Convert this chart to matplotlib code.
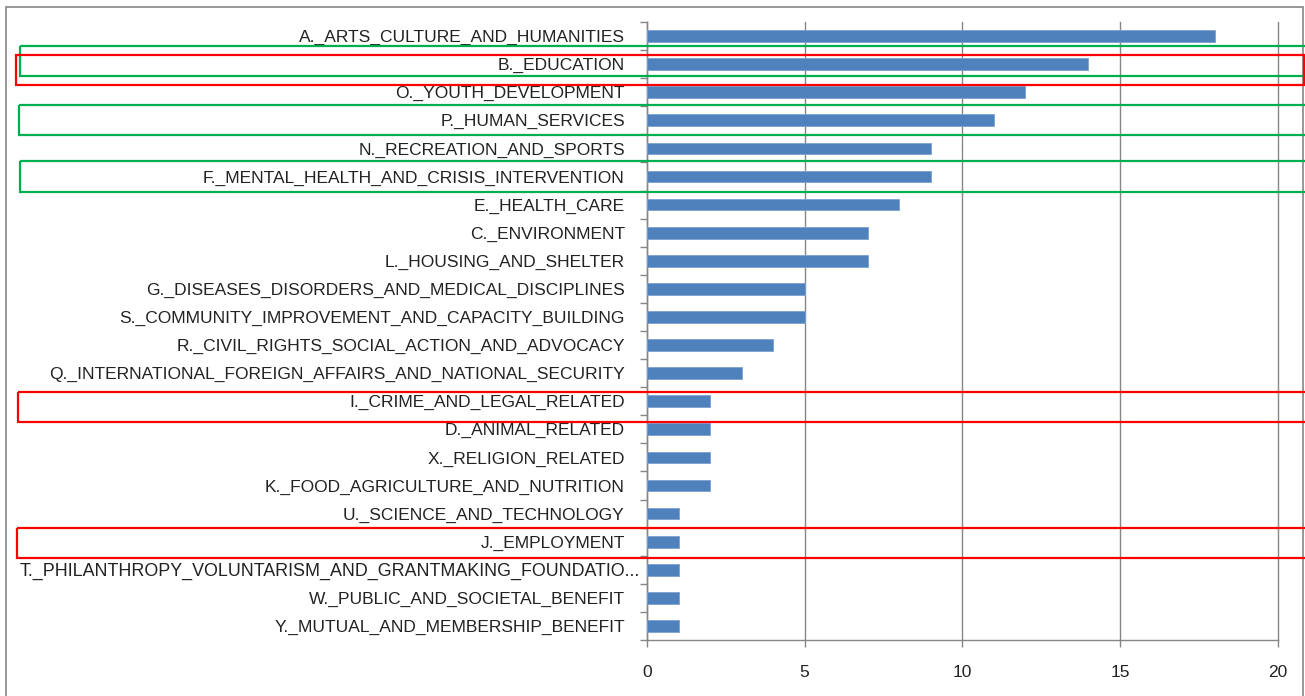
import matplotlib
matplotlib.use("Agg")
import matplotlib.pyplot as plt
import matplotlib.transforms as mtransforms
from matplotlib.patches import Rectangle
import numpy as np

# categories, top to bottom
categories = [
    "A._ARTS_CULTURE_AND_HUMANITIES",
    "B._EDUCATION",
    "O._YOUTH_DEVELOPMENT",
    "P._HUMAN_SERVICES",
    "N._RECREATION_AND_SPORTS",
    "F._MENTAL_HEALTH_AND_CRISIS_INTERVENTION",
    "E._HEALTH_CARE",
    "C._ENVIRONMENT",
    "L._HOUSING_AND_SHELTER",
    "G._DISEASES_DISORDERS_AND_MEDICAL_DISCIPLINES",
    "S._COMMUNITY_IMPROVEMENT_AND_CAPACITY_BUILDING",
    "R._CIVIL_RIGHTS_SOCIAL_ACTION_AND_ADVOCACY",
    "Q._INTERNATIONAL_FOREIGN_AFFAIRS_AND_NATIONAL_SECURITY",
    "I._CRIME_AND_LEGAL_RELATED",
    "D._ANIMAL_RELATED",
    "X._RELIGION_RELATED",
    "K._FOOD_AGRICULTURE_AND_NUTRITION",
    "U._SCIENCE_AND_TECHNOLOGY",
    "J._EMPLOYMENT",
    "T._PHILANTHROPY_VOLUNTARISM_AND_GRANTMAKING_FOUNDATIO...",
    "W._PUBLIC_AND_SOCIETAL_BENEFIT",
    "Y._MUTUAL_AND_MEMBERSHIP_BENEFIT",
]
counts = [18, 14, 12, 11, 9, 9, 8, 7, 7, 5, 5, 4, 3, 2, 2, 2, 2, 1, 1, 1, 1, 1]
x_ticks = [0, 5, 10, 15, 20]

# highlight boxes drawn over the chart: (category, colour, left edge px, shift in rows)
highlights = [
    ("B._EDUCATION", "#00b050", 20, -0.11),
    ("B._EDUCATION", "#ff0000", 16, 0.21),
    ("P._HUMAN_SERVICES", "#00b050", 19, 0.0),
    ("F._MENTAL_HEALTH_AND_CRISIS_INTERVENTION", "#00b050", 20, 0.0),
    ("I._CRIME_AND_LEGAL_RELATED", "#ff0000", 18, 0.2),
    ("J._EMPLOYMENT", "#ff0000", 17, 0.06),
]

W, H = 1305, 696
plt.rcParams['font.family'] = ['Liberation Sans', 'DejaVu Sans']
fig = plt.figure(figsize=(W / 100, H / 100), dpi=100)
ax = fig.add_axes([647 / W, 1 - 640 / H, (1277.6 - 647) / W, (640 - 22) / H])

grey = "#868686"
y = np.arange(len(categories))
ax.barh(y, counts, height=0.42, color="#4f81bd", edgecolor="#7da0cf", linewidth=0.6, zorder=3)

ax.set_xlim(0, 20)
ax.set_ylim(len(categories) - 0.5, -0.5)
ax.set_xticks(x_ticks)
ax.set_xticklabels([str(v) for v in x_ticks], fontsize=12.5, color="#222222")
ax.xaxis.grid(True, color=grey, linewidth=1.0, zorder=0)
ax.tick_params(axis="x", direction="out", length=5, color=grey, width=1, pad=13)
for gl in ax.get_xgridlines():
    gl.set_clip_on(False)

# tick marks between categories, labels at centers
ax.set_yticks(np.arange(len(categories) + 1) - 0.5)
ax.set_yticklabels([])
ax.set_yticks(y, minor=True)
ax.set_yticklabels(categories, minor=True, fontsize=12.5, color="#222222")
ax.tick_params(axis="y", which="major", direction="out", length=5, color=grey, width=1)
ax.tick_params(axis="y", which="minor", length=0, pad=16)

# truncated label sits closer to the axis and runs a bit wider
for lab in ax.get_yticklabels(minor=True):
    if lab.get_text().endswith("..."):
        lab.set_transform(lab.get_transform() + mtransforms.ScaledTranslation(11 / 72, 0, fig.dpi_scale_trans))
        lab.set_fontsize(12.9)

for side in ["top", "right"]:
    ax.spines[side].set_visible(False)
for side in ["left", "bottom"]:
    ax.spines[side].set_color(grey)
    ax.spines[side].set_linewidth(1)

# outer chart-area border
fig.patches.append(Rectangle((6 / W, -0.05), (1303 - 6) / W, 1.05 - 7 / H, transform=fig.transFigure,
                             fill=False, edgecolor=grey, linewidth=1.2))

# coloured boxes
trans = mtransforms.blended_transform_factory(fig.transFigure, ax.transData)
box_h = 1.07
for cat, col, left, shift in highlights:
    idx = categories.index(cat)
    right = 1304 if cat == "B._EDUCATION" and col == "#ff0000" else 1320
    r = Rectangle((left / W, idx + shift - box_h / 2), (right - left) / W, box_h, transform=trans,
                  fill=False, edgecolor=col, linewidth=1.6, clip_on=False, zorder=10)
    fig.patches.append(r)

fig.savefig("out.png", dpi=100)
